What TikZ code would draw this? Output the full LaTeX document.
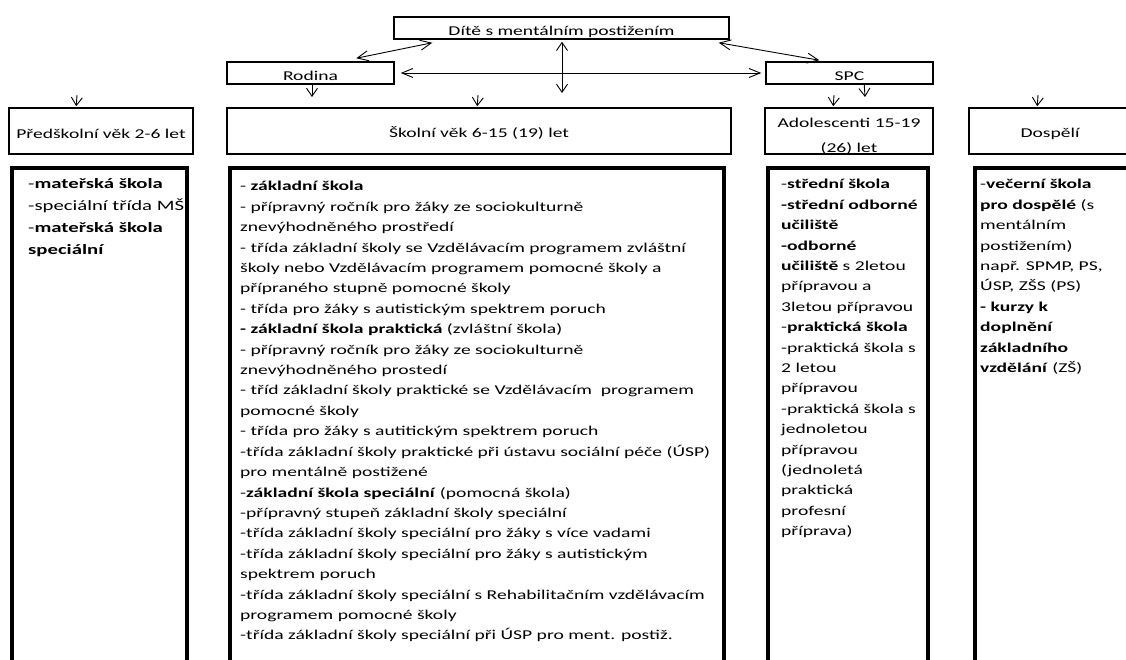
\documentclass[tikz,border=0pt]{standalone}
\usepackage{fontspec}
\setmainfont{Carlito}[FakeStretch=1.45]
\usetikzlibrary{arrows.meta,calc}
\tikzset{
  hbox/.style={draw, line width=1.5pt, inner sep=0pt, minimum height=22pt,
    text height=19pt, text depth=3pt, font=\fontsize{13.5}{16.2}\selectfont},
  tallbox/.style={hbox, minimum height=46pt, text height=30pt, text depth=16pt},
  lowbox/.style={draw, line width=3.4pt, inner sep=0pt},
  txt/.style={inner sep=0pt, anchor=base west, font=\fontsize{13.5}{20.4}\selectfont},
  conn/.style={line width=0.9pt},
  vtip/.tip={Straight Barb[length=8pt,width=11pt]},
  htip/.tip={Straight Barb[length=11pt,width=9pt]},
  dtip/.tip={Straight Barb[length=11pt,width=10pt]},
}
\newcommand{\colbox}[2]{\parbox[t]{#1}{\raggedright #2}}
\begin{document}
\begin{tikzpicture}[x=1pt,y=-1pt]
\useasboundingbox (0,0) rectangle (1126,660);
\fill[white] (0,0) rectangle (1126,660);
\clip (0,0) rectangle (1126,660);

% upper boxes
\node[hbox, minimum width=335pt] (dite) at (561.5,28) {Dítě s mentálním postižením};
\node[hbox, minimum width=167pt] (rodina) at (310.5,73) {Rodina};
\node[hbox, minimum width=167pt] (spc) at (849.5,73) {SPC};
\node[tallbox, minimum width=184pt, text height=31pt, text depth=15pt] (predskolni) at (101,131) {Předškolní věk 2-6 let};
\node[tallbox, minimum width=504pt] (skolni) at (479,131) {Školní věk 6-15 (19) let};
\node[tallbox, minimum width=168pt, text height=45pt, text depth=1pt] (adol) at (849,131)
  {\parbox[b]{168pt}{\centering\fontsize{13.5}{25}\selectfont Adolescenti 15-19\\(26) let}};
\node[tallbox, minimum width=162pt] (dospeli) at (1050,131) {Dospělí};

% lower boxes
\node[lowbox, minimum width=175pt, minimum height=532pt] (lowA) at (99.5,434) {};
\node[lowbox, minimum width=494pt, minimum height=532pt] (lowB) at (477,434) {};
\node[lowbox, minimum width=160pt, minimum height=532pt] (lowC) at (848,434) {};
\node[lowbox, minimum width=165pt, minimum height=532pt] (lowD) at (1057.5,434) {};

% texts
\node[txt, font=\fontsize{14.3}{21.7}\selectfont] (tA) at (28,189) {\colbox{170pt}{%
-\textbf{mateřská škola}\\
-speciální třída MŠ\\
-\textbf{mateřská škola}\\
\textbf{speciální}}};

\node[txt] (tB) at (240,191) {\colbox{480pt}{%
- \textbf{základní škola}\\
- přípravný ročník pro žáky ze sociokulturně\\
znevýhodněného prostředí\\
- třída základní školy se Vzdělávacím programem zvláštní\\
školy nebo Vzdělávacím programem pomocné školy a\\
přípraného stupně pomocné školy\\
- třída pro žáky s autistickým spektrem poruch\\
\textbf{- základní škola praktická} (zvláštní škola)\\
- přípravný ročník pro žáky ze sociokulturně\\
znevýhodněného prostedí\\
- tříd základní školy praktické se Vzdělávacím\ \ programem\\
pomocné školy\\
- třída pro žáky s autitickým spektrem poruch\\
-třída základní školy praktické při ústavu sociální péče (ÚSP)\\
pro mentálně postižené\\
-\textbf{základní škola speciální} (pomocná škola)\\
-přípravný stupeň základní školy speciální\\
-třída základní školy speciální pro žáky s více vadami\\
-třída základní školy speciální pro žáky s autistickým\\
spektrem poruch\\
-třída základní školy speciální s Rehabilitačním vzdělávacím\\
programem pomocné školy\\
-třída základní školy speciální při ÚSP pro ment. postiž.}};

\node[txt] (tC) at (781,189) {\colbox{200pt}{%
-\textbf{střední škola}\\
\textbf{-střední odborné}\\
\textbf{učiliště}\\
\textbf{-odborné}\\
\textbf{učiliště} s 2letou\\
přípravou a\\
3letou přípravou\\
-\textbf{praktická škola}\\
-praktická škola s\\
2 letou\\
přípravou\\
-praktická škola s\\
jednoletou\\
přípravou\\
(jednoletá\\
praktická\\
profesní\\
příprava)}};

\node[txt] (tD) at (980,189) {\colbox{200pt}{%
-\textbf{večerní škola}\\
\textbf{pro dospělé} (s\\
mentálním\\
postižením)\\
např. SPMP, PS,\\
ÚSP, ZŠS (PS)\\
\textbf{- kurzy k}\\
\textbf{doplnění}\\
\textbf{základního}\\
\textbf{vzdělání} (ZŠ)}};

% free ends
\coordinate (vend) at (562,93);
\coordinate (rend) at (312,97);
\coordinate (s0) at (478,95);
\coordinate (p0) at (77,95);
\coordinate (d0) at (1038,95);
\coordinate (a0) at (834,95);
\coordinate (send) at (865,97);

% connectors
\draw[conn, dtip-dtip] ($(dite.south west)+(39,3)$) -- ($(rodina.north west)+(130,-3)$);
\draw[conn, dtip-dtip] ($(dite.south east)+(-11,3)$) -- ($(spc.north west)+(54,-1)$);
\draw[conn, htip-htip] ($(rodina.east)+(6,0)$) -- ($(spc.west)+(-4,0)$);
\draw[conn, vtip-vtip] ($(dite.south)+(0.5,2)$) -- (vend);
\draw[conn, -vtip] ($(rodina.south)+(1.5,0)$) -- (rend);
\draw[conn, -vtip] (s0) -- ($(skolni.north west)+(251,-1)$);
\draw[conn, -vtip] (p0) -- ($(predskolni.north west)+(68,-1)$);
\draw[conn, -vtip] (d0) -- ($(dospeli.north west)+(69,-1)$);
\draw[conn, -vtip] (a0) -- ($(adol.north west)+(69,-1)$);
\draw[conn, -vtip] ($(spc.south west)+(99,0)$) -- (send);
\end{tikzpicture}
\end{document}
